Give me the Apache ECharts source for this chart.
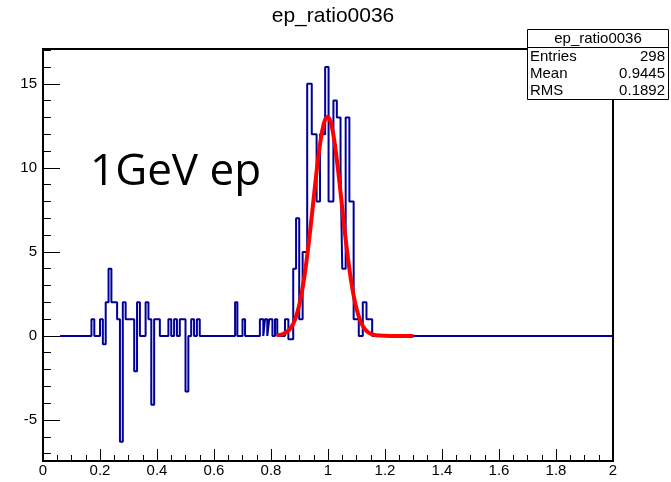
<!DOCTYPE html>
<html><head><meta charset="utf-8">
<script src="https://cdn.jsdelivr.net/npm/echarts@6/dist/echarts.min.js"></script>
<style>html,body{margin:0;padding:0;background:#fff}#c{width:671px;height:482px}</style>
</head><body><div id="c"></div>
<script>
const histTitle = 'ep_ratio0036';
const annotation = '1GeV ep';
// histogram: level changes (x where a new level starts, level value)
const stepEdges = [0.06, 0.17, 0.18, 0.20, 0.21, 0.22, 0.23, 0.24, 0.26, 0.27, 0.28, 0.29, 0.32, 0.33, 0.34, 0.36, 0.37, 0.38, 0.39, 0.41,
  0.44, 0.45, 0.46, 0.47, 0.48, 0.50, 0.51, 0.52, 0.53, 0.54, 0.55, 0.674, 0.682, 0.700, 0.709, 0.761, 0.773, 0.779, 0.787, 0.794,
  0.805, 0.814, 0.822, 0.849, 0.861, 0.878, 0.888, 0.899, 0.911, 0.927, 0.943, 0.960, 0.972, 0.990, 1.002, 1.019, 1.031, 1.044,
  1.050, 1.062, 1.075, 1.090, 1.108, 1.122, 1.135, 1.155, 2.0];
const stepLevels = [0, 1, 0, 1, -0.5, 2, 4, 2, 1, -6.3, 2, 1, -2.1, 2, 0, 2, 1, -4.1, 1, 0,
  1, 0, 1, 0, 1, -3.3, 0, 1, 0, 1, 0, 2, 0, 1, 0, 1, 0, 1, 0, 1,
  0, 1, 0, 1, -0.2, 4, 7, 1, 5, 15, 12, 8, 12, 16, 8, 14, 13, 10,
  4, 13, 8, 1, 0, 2, 1, 0, 0];
// fitted curve
const fitX = [0.82, 0.84, 0.86, 0.87, 0.88, 0.89, 0.90, 0.91, 0.92, 0.93, 0.94, 0.95, 0.96, 0.97, 0.98, 0.99, 1.00, 1.01, 1.02,
  1.03, 1.04, 1.05, 1.06, 1.07, 1.08, 1.09, 1.10, 1.11, 1.12, 1.13, 1.14, 1.16, 1.18, 1.22, 1.30];
const fitY = [0.04, 0.09, 0.3, 0.49, 0.8, 1.27, 1.91, 2.77, 3.87, 5.18, 6.66, 8.23, 9.78, 11.16, 12.23, 12.88, 13.04, 12.68, 11.85,
  10.63, 9.17, 7.6, 6.05, 4.63, 3.4, 2.4, 1.63, 1.06, 0.66, 0.4, 0.23, 0.07, 0.02, 0, 0];
const yMajorTicks = [-5, 0, 5, 10, 15];
const yMinorTicks = [-7, -6, -5, -4, -3, -2, -1, 0, 1, 2, 3, 4, 5, 6, 7, 8, 9, 10, 11, 12, 13, 14, 15, 16, 17];
const statsLabels = ['Entries', 'Mean', 'RMS'];
const statsValues = ['298', '0.9445', '0.1892'];

const font = '"Liberation Sans", Arial, Helvetica, sans-serif';
const chart = echarts.init(document.getElementById('c'), null, {renderer: 'canvas'});
const histData = stepEdges.map((x, i) => [x, stepLevels[i]]);
const fitData = fitX.map((x, i) => [x, fitY[i]]);

const statsTexts = [];
statsLabels.forEach((l, i) => {
  statsTexts.push({type: 'text', z: 101, style: {text: l, x: 530, y: 56.5 + i * 17.3, font: '15px ' + font, fill: '#000', textAlign: 'left', textVerticalAlign: 'middle'}});
  statsTexts.push({type: 'text', z: 101, style: {text: statsValues[i], x: 665, y: 56.5 + i * 17.3, font: '15px ' + font, fill: '#000', textAlign: 'right', textVerticalAlign: 'middle'}});
});

const option = {
  animation: false,
  grid: {left: 43, right: 58, top: 49, bottom: 21, show: true, borderColor: '#000', borderWidth: 2, backgroundColor: 'transparent'},
  xAxis: {
    type: 'value', min: 0, max: 2, interval: 0.2,
    axisLine: {show: false, onZero: false},
    axisTick: {inside: true, length: 12, lineStyle: {color: '#000', width: 1}},
    minorTick: {show: true, splitNumber: 4, length: 6, lineStyle: {color: '#000', width: 1}},
    axisLabel: {color: '#000', fontFamily: font, fontSize: 15, margin: 2},
    splitLine: {show: false}
  },
  yAxis: [{
    type: 'value', min: -7.44, max: 17.07, position: 'left',
    axisLine: {show: false, onZero: false},
    axisTick: {inside: true, length: 17, customValues: yMajorTicks, lineStyle: {color: '#000', width: 1}},
    axisLabel: {customValues: yMajorTicks, color: '#000', fontFamily: font, fontSize: 15, margin: 6},
    splitLine: {show: false}
  }, {
    type: 'value', min: -7.44, max: 17.07, position: 'left', offset: 0,
    axisLine: {show: false, onZero: false},
    axisTick: {inside: true, length: 8, customValues: yMinorTicks, lineStyle: {color: '#000', width: 1}},
    axisLabel: {show: false},
    splitLine: {show: false}
  }],
  series: [{
    type: 'line', step: 'end', data: histData, symbol: 'none',
    lineStyle: {color: '#000099', width: 2}, z: 3
  }, {
    type: 'line', data: fitData, symbol: 'none', smooth: 0.3,
    lineStyle: {color: '#ff0000', width: 4}, z: 4
  }],
  graphic: [
    {type: 'text', z: 100, style: {text: histTitle, x: 333, y: 16, font: '21px ' + font, fill: '#000', textAlign: 'center', textVerticalAlign: 'middle'}},
    {type: 'text', z: 100, style: {text: annotation, x: 90, y: 172, font: '44px "Open Sans", sans-serif', fill: '#000', textAlign: 'left', textVerticalAlign: 'middle'}},
    {type: 'rect', z: 100, shape: {x: 527.5, y: 29.5, width: 141, height: 70}, style: {fill: '#fff', stroke: '#000', lineWidth: 1}},
    {type: 'line', z: 101, shape: {x1: 527.5, y1: 47.5, x2: 668.5, y2: 47.5}, style: {stroke: '#000', lineWidth: 1}},
    {type: 'text', z: 101, style: {text: histTitle, x: 598, y: 39, font: '15px ' + font, fill: '#000', textAlign: 'center', textVerticalAlign: 'middle'}}
  ].concat(statsTexts)
};
chart.setOption(option);
</script>
</body></html>
